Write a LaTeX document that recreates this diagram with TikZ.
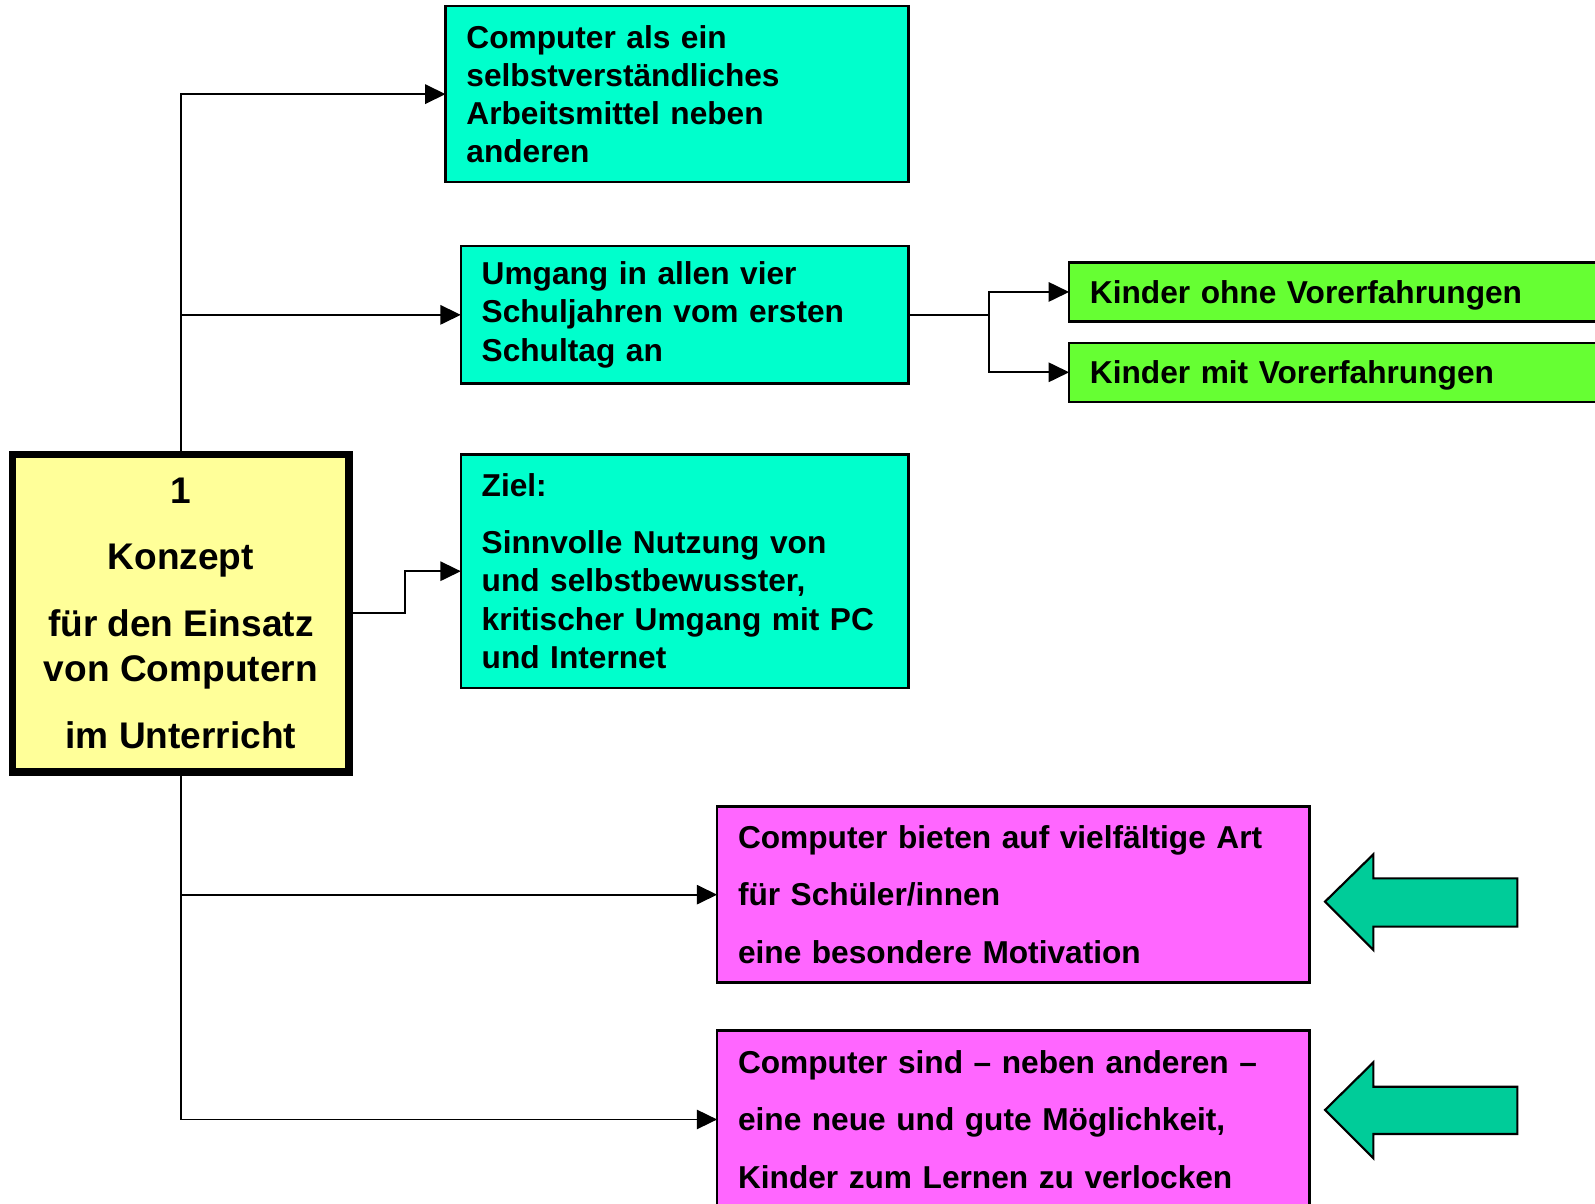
\documentclass[tikz,border=0pt]{standalone}
\usepackage{fontspec}
\setmainfont{Liberation Sans}
\usetikzlibrary{arrows.meta}
\definecolor{cyanbox}{RGB}{0,255,204}
\definecolor{greenbox}{RGB}{102,255,51}
\definecolor{pinkbox}{RGB}{255,102,255}
\definecolor{yellowbox}{RGB}{255,255,153}
\definecolor{blockgreen}{RGB}{0,204,153}
\newcommand\myboxfont{\fontsize{8.85pt}{10.67pt}\selectfont\bfseries}
\newcommand\mypinkfont{\fontsize{8.85pt}{16.07pt}\selectfont\bfseries}
\newcommand\myyellowfont{\fontsize{10.36pt}{12.8pt}\selectfont\bfseries}
\tikzset{
  box/.style={draw=black, line width=0.7pt, rectangle, anchor=north west,
    align=left, inner xsep=0.205cm, inner ysep=0pt, outer sep=0pt, font=\myboxfont},
  cyanstyle/.style={box, fill=cyanbox},
  greenstyle/.style={box, fill=greenbox, text depth=0pt},
  pinkstyle/.style={box, fill=pinkbox, font=\mypinkfont},
  ybox/.style={draw=black, line width=2.1pt, rectangle, fill=yellowbox,
    align=center, inner sep=0pt, outer sep=0pt, font=\myyellowfont},
  conn/.style={line width=0.5pt, -{Triangle[length=0.2cm,width=0.19cm]}},
  plainline/.style={line width=0.5pt},
  blockarrow/.style={draw=black, line width=0.6pt, fill=blockgreen, line join=miter},
}
\begin{document}
\begin{tikzpicture}[x=0.01cm, y=-0.01cm]
\useasboundingbox (0,0) rectangle (1568,1183.6);
\begin{scope}
\clip (0,0) rectangle (1568,1183.6);

\node[cyanstyle, text width=4.14cm, minimum height=1.73cm] (a) at (438,6)
  {Computer als ein\\selbstverständliches\\Arbeitsmittel neben\\anderen};
\node[cyanstyle, text width=3.99cm, minimum height=1.35cm] (b) at (453,242)
  {Umgang in allen vier\\Schuljahren vom ersten\\Schultag an};
\node[cyanstyle, text width=3.99cm, minimum height=2.29cm] (c) at (453,447)
  {Ziel:\\[0.185cm]Sinnvolle Nutzung von\\und selbstbewusster,\\kritischer Umgang mit PC\\und Internet};

\node[greenstyle, text width=5.08cm, minimum height=0.58cm] (g1) at (1051,258)
  {Kinder ohne Vorerfahrungen};
\node[greenstyle, text width=5.08cm, minimum height=0.58cm] (g2) at (1051,337)
  {Kinder mit Vorerfahrungen};

\node[pinkstyle, text width=5.41cm, minimum height=1.73cm] (p1) at (705,793)
  {Computer bieten auf vielfältige Art\\für Schüler/innen\\eine besondere Motivation};
\node[pinkstyle, text width=5.41cm, minimum height=1.75cm] (p2) at (705,1013)
  {Computer sind – neben anderen –\\eine neue und gute Möglichkeit,\\Kinder zum Lernen zu verlocken};

\node[ybox, minimum width=3.304cm, minimum height=3.12cm] (k) at (177.8,603)
  {1\\[0.2cm]Konzept\\[0.2cm]für den Einsatz\\von Computern\\[0.2cm]im Unterricht};

% connectors
\draw[conn] (k.north) |- (a.west);
\draw[conn] (k.north |- b.west) -- (b.west);
\draw[conn] (k.east) -- ++(55,0) |- (c.west);
\draw[conn] (k.south) |- (p2.west);
\draw[conn] (k.south |- p1.west) -- (p1.west);

\draw[plainline] (b.east) -- ++(79,0) coordinate (split);
\draw[conn] (split) |- (g1.west);
\draw[conn] (split) |- (g2.west);

% block arrows
\draw[blockarrow] (1491.7,863.5) -- (1350.1,863.5) -- (1350.1,839.9) -- (1302.6,886.4)
  -- (1350.1,934) -- (1350.1,911) -- (1491.7,911) -- cycle;
\draw[blockarrow] (1491.7,1068.3) -- (1350.1,1068.3) -- (1350.1,1044.4) -- (1302.6,1091.2)
  -- (1350.1,1138.7) -- (1350.1,1114.8) -- (1491.7,1114.8) -- cycle;
\end{scope}
\end{tikzpicture}
\end{document}
